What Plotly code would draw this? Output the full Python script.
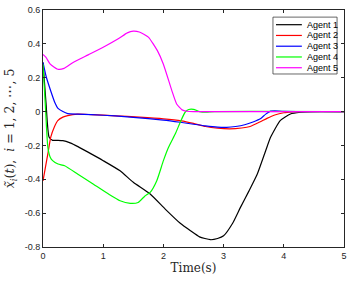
import plotly.graph_objects as go

# ---- data ----
agent_names = ["Agent 1", "Agent 2", "Agent 3", "Agent 4", "Agent 5"]

t1 = [0, 0.05, 0.1, 0.16, 0.25, 0.33, 0.45, 0.58, 0.8, 1.0, 1.28, 1.5, 1.78, 2.03, 2.28, 2.45,
      2.6, 2.78, 2.9, 3.0, 3.15, 3.28, 3.42, 3.56, 3.7, 3.78, 3.94, 4.11, 4.28, 4.45, 5]
y1 = [0.29, 0.05, -0.15, -0.17, -0.17, -0.172, -0.185, -0.207, -0.25, -0.29, -0.35, -0.418, -0.487,
      -0.576, -0.66, -0.704, -0.74, -0.757, -0.75, -0.734, -0.66, -0.566, -0.47, -0.369, -0.23,
      -0.152, -0.053, -0.014, -0.004, 0, 0]

t2 = [0, 0.04, 0.08, 0.13, 0.19, 0.245, 0.33, 0.41, 0.57, 0.8, 1.2, 1.6, 2.0, 2.3, 2.5, 2.7, 2.9,
      3.1, 3.3, 3.44, 3.6, 3.72, 3.85, 4.0, 4.15, 4.3, 5]
y2 = [-0.41, -0.33, -0.25, -0.15, -0.09, -0.053, -0.033, -0.024, -0.015, -0.018, -0.025, -0.033,
      -0.043, -0.055, -0.07, -0.088, -0.098, -0.102, -0.097, -0.088, -0.062, -0.04, -0.02, -0.007,
      -0.002, 0, 0]

t3 = [0, 0.05, 0.13, 0.2, 0.245, 0.33, 0.41, 0.57, 0.8, 1.2, 1.5, 2.0, 2.28, 2.5, 2.7, 2.9, 3.05,
      3.2, 3.35, 3.5, 3.61, 3.7, 3.78, 3.85, 4.0, 5]
y3 = [0.29, 0.21, 0.12, 0.05, 0.02, 0.0, -0.012, -0.015, -0.018, -0.026, -0.034, -0.05, -0.063,
      -0.075, -0.085, -0.092, -0.093, -0.088, -0.078, -0.06, -0.043, -0.015, 0.003, 0.005, 0.001, 0]

t4 = [0, 0.04, 0.08, 0.12, 0.16, 0.25, 0.36, 0.58, 0.8, 1.1, 1.28, 1.45, 1.58, 1.69, 1.78, 1.89,
      2.0, 2.08, 2.2, 2.28, 2.36, 2.42, 2.5, 2.6, 2.7, 2.85, 5]
y4 = [0.28, 0.03, -0.21, -0.27, -0.29, -0.31, -0.32, -0.37, -0.42, -0.49, -0.527, -0.542, -0.537,
      -0.50, -0.477, -0.408, -0.29, -0.215, -0.13, -0.063, -0.004, 0.012, 0.013, 0.0, -0.004, 0, 0]

t5 = [0, 0.05, 0.12, 0.245, 0.35, 0.5, 0.75, 1.0, 1.25, 1.4, 1.5, 1.6, 1.75, 1.9, 2.0, 2.14, 2.22,
      2.31, 2.39, 2.5, 5]
y5 = [0.337, 0.32, 0.28, 0.25, 0.255, 0.29, 0.335, 0.38, 0.43, 0.465, 0.475, 0.47, 0.44, 0.36,
      0.28, 0.124, 0.045, 0.01, 0.002, 0, 0]

colors = ["#000000", "#ff0000", "#0000ff", "#00ff00", "#ff00ff"]

x_ticks = [0, 1, 2, 3, 4, 5]
x_tick_labels = ["0", "1", "2", "3", "4", "5"]
y_ticks = [0.6, 0.4, 0.2, 0, -0.2, -0.4, -0.6, -0.8]
y_tick_labels = ["0.6", "0.4", "0.2", "0", "-0.2", "-0.4", "-0.6", "-0.8"]

series = [(t1, y1), (t2, y2), (t3, y3), (t4, y4), (t5, y5)]

fig = go.Figure()
for (t, y), name, c in zip(series, agent_names, colors):
    fig.add_trace(go.Scatter(x=t, y=y, mode="lines", name=name, showlegend=False,
                             line=dict(color=c, width=1.2, shape="spline", smoothing=0.5)))

# ---- MATLAB-style compact legend box (paper coordinates) ----
leg_x0, leg_x1, leg_y0, leg_y1 = 0.764, 0.977, 0.730, 0.970
line_x0, line_x1, text_x = 0.774, 0.860, 0.870
first_y, step_y = 0.938, 0.0454
shapes = [dict(type="rect", xref="paper", yref="paper", x0=leg_x0, x1=leg_x1, y0=leg_y0, y1=leg_y1,
               line=dict(color="#262626", width=0.7), fillcolor="white", layer="above")]
annotations = []
for i, (name, c) in enumerate(zip(agent_names, colors)):
    yy = first_y - i * step_y
    shapes.append(dict(type="line", xref="paper", yref="paper", x0=line_x0, x1=line_x1,
                       y0=yy, y1=yy, line=dict(color=c, width=1.2), layer="above"))
    annotations.append(dict(text=name, xref="paper", yref="paper", x=text_x, y=yy,
                            xanchor="left", yanchor="middle", showarrow=False,
                            font=dict(family="Liberation Sans, Arial", size=9, color="#000000")))

axis_common = dict(showgrid=False, zeroline=False, showline=True, linecolor="#262626",
                   linewidth=0.7, mirror="ticks", ticks="inside", ticklen=3,
                   tickcolor="#262626", tickwidth=0.7, automargin=False,
                   tickfont=dict(family="Liberation Sans, Arial", size=9, color="#262626"))

fig.update_layout(
    width=357, height=283,
    margin=dict(l=43, r=13, t=10, b=36),
    paper_bgcolor="white", plot_bgcolor="white",
    xaxis=dict(range=[0, 5], tickvals=x_ticks, ticktext=x_tick_labels,
               title=dict(text="Time(s)", standoff=3,
                          font=dict(family="DejaVu Serif", size=12, color="#262626")),
               **axis_common),
    yaxis=dict(range=[-0.8, 0.6], tickvals=y_ticks, ticktext=y_tick_labels,
               title=dict(text="<i>x̃</i><sub><i>i</i></sub>(<i>t</i>),  <i>i</i> = 1, 2, ⋯, 5",
                          standoff=7,
                          font=dict(family="DejaVu Serif", size=12.5, color="#262626")),
               **axis_common),
    shapes=shapes,
    annotations=annotations,
    showlegend=False,
)

fig.write_html("out.html", config={"displayModeBar": False},
               post_script="document.body.style.margin='0';")
